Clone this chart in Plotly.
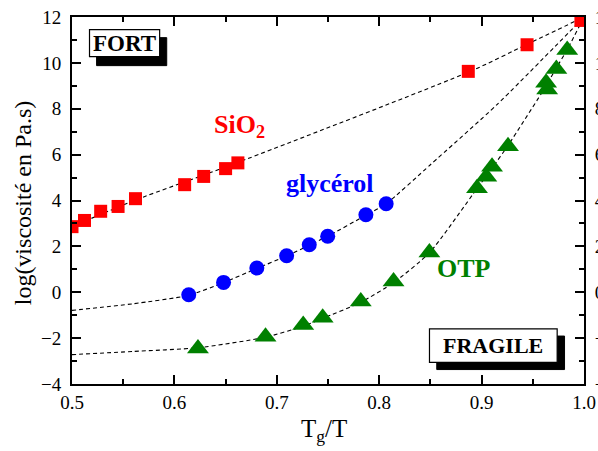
import plotly.graph_objects as go

# ---- data ----
sio2_x = [0.500, 0.5122, 0.528, 0.545, 0.562, 0.610, 0.6286, 0.650, 0.662, 0.887, 0.9444, 0.997]
sio2_y = [2.86, 3.13, 3.53, 3.74, 4.08, 4.69, 5.05, 5.39, 5.64, 9.63, 10.79, 11.85]

gly_x = [0.614, 0.648, 0.6805, 0.7096, 0.7317, 0.7497, 0.787, 0.8068]
gly_y = [-0.11, 0.43, 1.06, 1.59, 2.07, 2.44, 3.38, 3.86]

otp_x = [0.623, 0.689, 0.7258, 0.7448, 0.782, 0.814, 0.849, 0.8955, 0.9046, 0.9102,
         0.9258, 0.963, 0.964, 0.973, 0.9836]
otp_y = [-2.45, -1.94, -1.43, -1.11, -0.40, 0.47, 1.73, 4.53, 5.03, 5.47,
         6.37, 9.13, 8.84, 9.73, 10.56]

# dashed fit curves
sio2_fit_x = [0.5, 0.562, 0.662, 0.889, 0.944, 1.0]
sio2_fit_y = [2.86, 4.02, 5.66, 9.63, 10.80, 12.0]

gly_fit_x = [0.5, 0.56, 0.614, 0.648, 0.6805, 0.7096, 0.7317, 0.7497, 0.787, 0.8068, 0.85, 0.915, 1.0]
gly_fit_y = [-0.79, -0.50, -0.13, 0.42, 1.04, 1.58, 2.05, 2.44, 3.36, 3.86, 5.56, 8.18, 12.0]

otp_fit_x = [0.5, 0.56, 0.623, 0.689, 0.7258, 0.7448, 0.782, 0.814, 0.849, 0.8955, 0.91,
             0.9258, 0.963, 0.973, 0.9836, 1.0]
otp_fit_y = [-2.72, -2.58, -2.42, -1.96, -1.48, -1.14, -0.44, 0.42, 1.72, 4.52, 5.40,
             6.40, 9.00, 9.78, 10.58, 12.0]

x_range = [0.5, 1.0]
y_range = [-4, 12]
x_ticks = [0.5, 0.6, 0.7, 0.8, 0.9, 1.0]
x_ticklabels = ["0.5", "0.6", "0.7", "0.8", "0.9", "1.0"]
y_ticks = [-4, -2, 0, 2, 4, 6, 8, 10, 12]

RED = "#ff0000"
BLUE = "#0000ff"
GREEN = "#008000"
FONT = "Liberation Serif"

fig = go.Figure()

line_style = dict(color="black", width=1.1, dash="4px,3px")
for fx, fy in [(sio2_fit_x, sio2_fit_y), (gly_fit_x, gly_fit_y), (otp_fit_x, otp_fit_y)]:
    fig.add_trace(go.Scatter(x=fx, y=fy, mode="lines", line=dict(shape="spline", smoothing=0.6, **line_style),
                             showlegend=False, hoverinfo="skip"))

fig.add_trace(go.Scatter(x=sio2_x, y=sio2_y, mode="markers",
                         marker=dict(symbol="square", size=13, color=RED), showlegend=False))
fig.add_trace(go.Scatter(x=gly_x, y=gly_y, mode="markers",
                         marker=dict(symbol="circle", size=15, color=BLUE), showlegend=False))
fig.add_trace(go.Scatter(x=otp_x, y=otp_y, mode="markers",
                         marker=dict(symbol="triangle-up", size=19, color=GREEN), showlegend=False))
# dummy trace for right axis
fig.add_trace(go.Scatter(x=[None], y=[None], yaxis="y2", showlegend=False, hoverinfo="skip"))

# boxes with shadows
shadow_boxes = [
    (0.524, 0.5925, 9.88, 11.10),
    (0.8562, 0.981, -3.37, -1.91),
]
boxes = [
    (0.5171, 0.5856, 10.27, 11.45),
    (0.8491, 0.9738, -3.06, -1.60),
]
for (x0, x1, y0, y1) in shadow_boxes:
    fig.add_shape(type="rect", xref="x", yref="y", x0=x0, x1=x1, y0=y0, y1=y1,
                  fillcolor="black", line=dict(color="black", width=1), layer="above")
for (x0, x1, y0, y1) in boxes:
    fig.add_shape(type="rect", xref="x", yref="y", x0=x0, x1=x1, y0=y0, y1=y1,
                  fillcolor="white", line=dict(color="black", width=1.2), layer="above")

ann = []
ann.append(dict(x=0.5514, y=10.86, xref="x", yref="y", text="<b>FORT</b>", showarrow=False,
                font=dict(family=FONT, size=23, color="black")))
ann.append(dict(x=0.9115, y=-2.33, xref="x", yref="y", text="<b>FRAGILE</b>", showarrow=False,
                font=dict(family=FONT, size=22, color="black")))
ann.append(dict(x=0.6365, y=7.25, xref="x", yref="y", xanchor="left", text="<b>SiO<sub>2</sub></b>",
                showarrow=False, font=dict(family=FONT, size=26, color=RED)))
ann.append(dict(x=0.7522, y=4.75, xref="x", yref="y", text="<b>glycérol</b>", showarrow=False,
                font=dict(family=FONT, size=26, color=BLUE)))
ann.append(dict(x=0.8824, y=1.03, xref="x", yref="y", text="<b>OTP</b>", showarrow=False,
                font=dict(family=FONT, size=26, color=GREEN)))
# axis titles
ann.append(dict(x=-0.0968, y=0.4936, xref="paper", yref="paper", xanchor="center", yanchor="middle",
                text="log(viscosité en Pa.s)", textangle=-90, showarrow=False,
                font=dict(family=FONT, size=24, color="black")))
ann.append(dict(x=0.4927, y=-0.079, xref="paper", yref="paper", xanchor="center", yanchor="top",
                text="T<sub>g</sub>/T", showarrow=False, font=dict(family=FONT, size=25, color="black")))

axis_common = dict(showgrid=False, zeroline=False, showline=True, linecolor="black", linewidth=2,
                   ticks="inside", ticklen=9, tickwidth=1.5, tickcolor="black", automargin=False,
                   tickfont=dict(family=FONT, size=19, color="black"))

fig.update_layout(
    width=598, height=451,
    margin=dict(l=72, r=14, t=17, b=67),
    paper_bgcolor="white", plot_bgcolor="white",
    annotations=ann,
    xaxis=dict(range=x_range, tickvals=x_ticks, ticktext=x_ticklabels, mirror="ticks",
               minor=dict(dtick=0.05, ticks="inside", ticklen=5, tickwidth=1.5, tickcolor="black"),
               **axis_common),
    yaxis=dict(range=y_range, tickvals=y_ticks, mirror=True, ticklabelstandoff=5,
               minor=dict(dtick=1, ticks="inside", ticklen=5, tickwidth=1.5, tickcolor="black"),
               **axis_common),
    yaxis2=dict(range=y_range, tickvals=y_ticks, overlaying="y", side="right", ticklabelstandoff=5,
                minor=dict(dtick=1, ticks="inside", ticklen=5, tickwidth=1.5, tickcolor="black"),
                **axis_common),
)

fig.write_html("out.html", config={"displayModeBar": False},
               post_script="document.body.style.margin='0';document.body.style.overflow='hidden';")
